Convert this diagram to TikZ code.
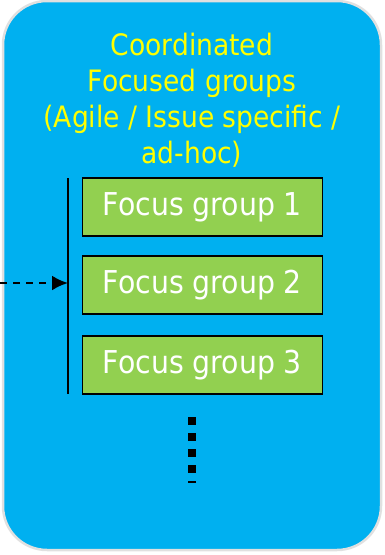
\documentclass[tikz,border=0pt]{standalone}
\usepackage{fontspec}
\setmainfont{DejaVu Sans Condensed}
\usepackage{tikz}
\usetikzlibrary{positioning, arrows.meta}

\definecolor{panelblue}{HTML}{00B0F0}
\definecolor{groupgreen}{HTML}{92D050}
\definecolor{titleyellow}{HTML}{FFFF00}

\tikzset{
  groupbox/.style={draw=black, line width=1.2pt, fill=groupgreen, text=white,
    minimum width=240pt, minimum height=58pt, inner sep=0pt,
    font=\fontsize{31.5}{36}\selectfont},
  feedline/.style={-{Latex[length=16pt,width=15pt]}, line width=2.4pt, dash pattern=on 7pt off 6pt}
}

\begin{document}
\begin{tikzpicture}[x=1pt, y=-1pt]
    \useasboundingbox (0,0) rectangle (384,555);

    % Draw panel
    \draw[draw=black!12, line width=2.5pt, fill=panelblue, rounded corners=44pt] (3,1) rectangle (381,550);

    % Title
    \node[text=titleyellow, align=center, font=\fontsize{29.5}{36}\selectfont] (title) at (192,100)
      {Coordinated\\Focused groups\\(Agile / Issue specific /\\ad-hoc)};

    % Draw the focus groups
    \foreach \i/\y in {1/207, 2/285, 3/365} {
      \node[groupbox] (fg\i) at (202.5,\y) {Focus group \i};
    }

    % Bar left of the groups and the incoming arrow
    \coordinate (bartop) at (68,178);
    \coordinate (barbot) at (68,394);
    \coordinate (feed) at (0,283);
    \draw[line width=2pt] (bartop) -- (barbot);
    \draw[feedline] (feed) -- (feed -| bartop);

    % More groups below
    \coordinate (moretop) at (192,417);
    \coordinate (morebot) at (192,482.5);
    \draw[line width=8pt, dash pattern=on 8pt off 8pt] (moretop) -- (morebot);

  \end{tikzpicture}
\end{document}
